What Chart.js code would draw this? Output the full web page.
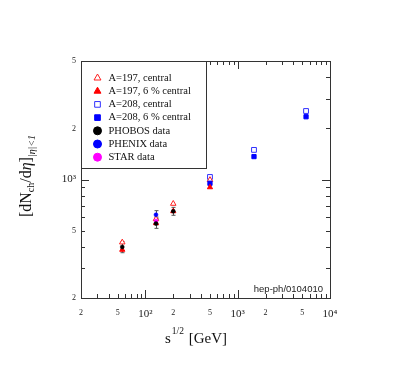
<!DOCTYPE html>
<html>
<head>
<meta charset="utf-8">
<script src="https://cdn.jsdelivr.net/npm/chart.js@4.4.0/dist/chart.umd.min.js"></script>
<style>
  html, body { margin: 0; padding: 0; background: #fff; }
  #wrap { width: 394px; height: 378px; }
</style>
</head>
<body>
<div id="wrap"><canvas id="multChart" width="394" height="378"></canvas></div>
<script>
// Datos
const energiesAu = [56, 130, 200, 500];
const energiesPb = [500, 1500, 5500];
const energiesPhobos = [56, 130, 200];

const au197Central = [426, 585, 720, 995];
const au197Six = [385, 553, 650, 900];
const pb208Central = [1035, 1495, 2535];
const pb208Six = [950, 1365, 2345];

const phobosData = [400, 550, 650];
const phobosErr = [30, 35, 35];
const phenixData = [620];
const phenixErr = [35];
const starData = [570];
const starErr = [30];

const legendLabels = ['A=197, central', 'A=197, 6 % central', 'A=208, central',
    'A=208, 6 % central', 'PHOBOS data', 'PHENIX data', 'STAR data'];

const xTickMantissas = [1, 2, 3, 4, 5, 6, 7, 8, 9];
const labeledMantissas = [2, 5];

const SERIF = '"Liberation Serif", "DejaVu Serif", serif';

function pts(xs, ys, errs) {
    return xs.map((x, i) => ({ x: x, y: ys[i], err: errs ? errs[i] : 0 }));
}

function logTicks(min, max) {
    const out = [];
    for (let p = Math.floor(Math.log10(min)); p <= Math.ceil(Math.log10(max)); p++) {
        xTickMantissas.forEach(m => {
            const v = m * Math.pow(10, p);
            if (v >= min - 1e-9 && v <= max + 1e-9) out.push({ value: v });
        });
    }
    return out;
}

function mantissa(v) {
    const p = Math.floor(Math.log10(v) + 1e-9);
    return Math.round(v / Math.pow(10, p));
}

const sup = { '2': '\u00b2', '3': '\u00b3', '4': '\u2074' };

function tickLabel(v) {
    const m = mantissa(v);
    if (m === 1) {
        const p = Math.round(Math.log10(v));
        return '10' + sup[String(p)];
    }
    return labeledMantissas.includes(m) ? String(m) : '';
}

function tickFont(ctx) {
    const v = ctx.tick ? ctx.tick.value : 0;
    return { family: SERIF, size: mantissa(v) === 1 ? 11 : 8 };
}

// Plugin: barras de error, marco, ticks interiores, leyenda y titulos
const decorPlugin = {
    id: 'decor',
    beforeDatasetsDraw(chart) {
        const ctx = chart.ctx;
        const ys = chart.scales.y;
        ctx.save();
        ctx.strokeStyle = '#555';
        ctx.lineWidth = 1;
        chart.data.datasets.forEach((ds, i) => {
            const meta = chart.getDatasetMeta(i);
            ds.data.forEach((d, j) => {
                if (!d.err) return;
                const px = Math.round(meta.data[j].x) + 0.5;
                const top = ys.getPixelForValue(d.y + d.err);
                const bot = ys.getPixelForValue(d.y - d.err);
                ctx.beginPath();
                ctx.moveTo(px, top); ctx.lineTo(px, bot);
                ctx.moveTo(px - 2, top); ctx.lineTo(px + 2, top);
                ctx.moveTo(px - 2, bot); ctx.lineTo(px + 2, bot);
                ctx.stroke();
            });
        });
        ctx.restore();
    },
    afterDraw(chart) {
        const ctx = chart.ctx;
        const a = chart.chartArea;
        const xs = chart.scales.x;
        const ys = chart.scales.y;
        ctx.save();
        ctx.strokeStyle = '#333';
        ctx.lineWidth = 1;

        // ticks hacia dentro en los cuatro lados
        ctx.beginPath();
        xs.ticks.forEach(t => {
            const px = Math.round(xs.getPixelForValue(t.value)) + 0.5;
            const len = mantissa(t.value) === 1 ? 8 : 4;
            ctx.moveTo(px, a.bottom); ctx.lineTo(px, a.bottom - len);
            ctx.moveTo(px, a.top); ctx.lineTo(px, a.top + len);
        });
        ys.ticks.forEach(t => {
            const py = Math.round(ys.getPixelForValue(t.value)) + 0.5;
            const len = mantissa(t.value) === 1 ? 8 : 4;
            ctx.moveTo(a.left, py); ctx.lineTo(a.left + len, py);
            ctx.moveTo(a.right, py); ctx.lineTo(a.right - len, py);
        });
        ctx.stroke();

        // marco
        ctx.strokeRect(Math.round(a.left) + 0.5, Math.round(a.top) + 0.5,
            Math.round(a.right - a.left), Math.round(a.bottom - a.top));

        // leyenda
        const bx = Math.round(a.left) + 0.5, by = Math.round(a.top) + 0.5;
        const bw = 125, bh = 107;
        ctx.fillStyle = '#fff';
        ctx.fillRect(bx, by, bw, bh);
        ctx.strokeRect(bx, by, bw, bh);
        ctx.font = '10.5px ' + SERIF;
        ctx.textBaseline = 'middle';
        ctx.textAlign = 'left';
        legendLabels.forEach((lab, i) => {
            const ds = chart.data.datasets[i];
            const cy = by + 16.5 + i * 13.2;
            const cx = bx + 16;
            ctx.lineWidth = 1;
            ctx.strokeStyle = ds.borderColor;
            ctx.fillStyle = ds.backgroundColor;
            Chart.helpers.drawPoint(ctx, {
                pointStyle: ds.pointStyle,
                radius: 4,
                rotation: 0,
                borderWidth: 1
            }, cx, cy);
            ctx.fillStyle = '#111';
            ctx.fillText(lab, bx + 27, cy);
        });

        // texto hep-ph
        ctx.font = '9.5px "Liberation Sans", Arial, sans-serif';
        ctx.fillStyle = '#222';
        ctx.textAlign = 'right';
        ctx.textBaseline = 'alphabetic';
        ctx.fillText('hep-ph/0104010', a.right - 7, a.bottom - 6);

        // titulo eje x: s^{1/2} [GeV]
        ctx.fillStyle = '#111';
        ctx.textAlign = 'left';
        const xBase = 343;
        ctx.font = '15px ' + SERIF;
        const wS = ctx.measureText('s').width;
        ctx.font = '9.5px ' + SERIF;
        const wSup = ctx.measureText('1/2').width;
        ctx.font = '15px ' + SERIF;
        const wRest = ctx.measureText(' [GeV]').width;
        let x0 = 196 - (wS + wSup + 2 + wRest) / 2;
        ctx.fillText('s', x0, xBase);
        ctx.font = '9.5px ' + SERIF;
        ctx.fillText('1/2', x0 + wS + 1, xBase - 9);
        ctx.font = '15px ' + SERIF;
        ctx.fillText(' [GeV]', x0 + wS + wSup + 2, xBase);

        // titulo eje y: [dN_ch/dη]_{|η|<1}
        const parts = [
            { t: '[dN', f: '16px ' + SERIF, dy: 0 },
            { t: 'ch', f: '10px ' + SERIF, dy: 3 },
            { t: '/d', f: '16px ' + SERIF, dy: 0 },
            { t: '\u03b7', f: 'italic 16px ' + SERIF, dy: 0 },
            { t: ']', f: '16px ' + SERIF, dy: 0 },
            { t: '|\u03b7|<1', f: 'italic 10px ' + SERIF, dy: 4 }
        ];
        let total = 0;
        parts.forEach(p => { ctx.font = p.f; p.w = ctx.measureText(p.t).width; total += p.w; });
        ctx.translate(31, 176);
        ctx.rotate(-Math.PI / 2);
        let cx = -total / 2;
        parts.forEach(p => {
            ctx.font = p.f;
            ctx.fillText(p.t, cx, p.dy);
            cx += p.w;
        });
        ctx.restore();
    }
};

const ctx = document.getElementById('multChart').getContext('2d');

new Chart(ctx, {
    type: 'scatter',
    data: {
        datasets: [
            { data: pts(energiesAu, au197Central), pointStyle: 'triangle', radius: 3.2,
              borderColor: '#ff2020', backgroundColor: '#ffffff', borderWidth: 1, order: 3 },
            { data: pts(energiesAu, au197Six), pointStyle: 'triangle', radius: 3,
              borderColor: '#ff0000', backgroundColor: '#ff0000', borderWidth: 1, order: 2 },
            { data: pts(energiesPb, pb208Central), pointStyle: 'rect', radius: 3.4,
              borderColor: '#3030ff', backgroundColor: '#ffffff', borderWidth: 1, order: 3 },
            { data: pts(energiesPb, pb208Six), pointStyle: 'rect', radius: 3,
              borderColor: '#0000ff', backgroundColor: '#0000ff', borderWidth: 1, order: 2 },
            { data: pts(energiesPhobos, phobosData, phobosErr), pointStyle: 'circle', radius: 2,
              borderColor: '#000000', backgroundColor: '#000000', borderWidth: 0.5, order: 0 },
            { data: pts([130], phenixData, phenixErr), pointStyle: 'circle', radius: 2,
              borderColor: '#0000ff', backgroundColor: '#0000ff', borderWidth: 0.5, order: 1 },
            { data: pts([130], starData, starErr), pointStyle: 'circle', radius: 2,
              borderColor: '#ff00ff', backgroundColor: '#ff00ff', borderWidth: 0.5, order: 1 }
        ]
    },
    options: {
        responsive: false,
        animation: false,
        devicePixelRatio: 1,
        layout: { padding: { top: 61, right: 64, left: 0, bottom: 0 } },
        plugins: {
            legend: { display: false },
            tooltip: { enabled: false }
        },
        scales: {
            x: {
                type: 'logarithmic',
                min: 20,
                max: 10000,
                grid: { display: false, drawTicks: false },
                border: { display: false },
                afterBuildTicks: s => { s.ticks = logTicks(20, 10000); },
                afterFit: s => { s.height = 80; },
                ticks: {
                    autoSkip: false,
                    maxRotation: 0,
                    padding: 10,
                    color: '#222',
                    font: tickFont,
                    callback: v => tickLabel(v)
                }
            },
            y: {
                type: 'logarithmic',
                min: 200,
                max: 5000,
                grid: { display: false, drawTicks: false },
                border: { display: false },
                afterBuildTicks: s => { s.ticks = logTicks(200, 5000); },
                afterFit: s => { s.width = 81; },
                ticks: {
                    autoSkip: false,
                    padding: 5,
                    color: '#222',
                    font: tickFont,
                    callback: v => tickLabel(v)
                }
            }
        }
    },
    plugins: [decorPlugin]
});
</script>
</body>
</html>
